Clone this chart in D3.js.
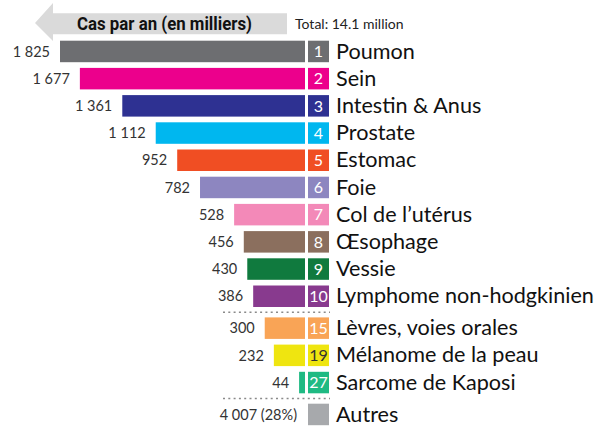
<!DOCTYPE html>
<html>
<head>
<meta charset="utf-8">
<script src="https://cdn.jsdelivr.net/npm/d3@7"></script>
<style>
  body { margin: 0; background: #fff; }
  text { font-family: Lato, "Open Sans", sans-serif; }
</style>
</head>
<body>
<script>
// Data (thousands of cases per year)
let categories = ["Poumon", "Sein", "Intestin & Anus", "Prostate", "Estomac", "Foie",
  "Col de l\u2019ut\u00e9rus", "\u0152sophage", "Vessie", "Lymphome non-hodgkinien",
  "L\u00e8vres, voies orales", "M\u00e9lanome de la peau", "Sarcome de Kaposi", "Autres"];
let values = [1825, 1677, 1361, 1112, 952, 782, 528, 456, 430, 386, 300, 232, 44, 4007];
let valueLabels = ["1 825", "1 677", "1 361", "1 112", "952", "782", "528", "456", "430",
  "386", "300", "232", "44", "4 007 (28%)"];
let ranks = ["1", "2", "3", "4", "5", "6", "7", "8", "9", "10", "15", "19", "27", ""];
let colors = ["#6d6e71", "#ec008c", "#2e3192", "#00b7ef", "#f04e23", "#8d86c0",
  "#f389b8", "#8b6f5e", "#107a3e", "#883a8e", "#f9a456", "#efe510", "#1fba83", "#a7a9ac"];
let groups = [0, 0, 0, 0, 0, 0, 0, 0, 0, 0, 1, 1, 1, 2];

let W = 595, H = 427;
let barRight = 305;   // where bars end
let boxX = 308, boxW = 21;
let rowStep = 27.2, barH = 21.5, groupGap = 4.7, topY = 40.7;

let svg = d3.select("body").append("svg")
  .attr("width", W)
  .attr("height", H);

// bar length scale (bars grow leftwards)
let x = d3.scaleLinear().domain([0, 1825]).range([0, 245]);
let yIdx = d3.scaleLinear().domain([0, 1]).range([topY, topY + rowStep]);
let y = (i) => yIdx(i) + groups[i] * groupGap;

let rows = categories.map((c, i) => ({ i: i, cat: c, v: values[i] }));

// header arrow
svg.append("path")
  .attr("d", "M35,23 L53,3 L53,13.3 L287,13.3 L287,34.3 L53,34.3 L53,41 Z")
  .attr("fill", "#dadada");

svg.append("text")
  .attr("x", 77).attr("y", 30)
  .attr("textLength", 175).attr("lengthAdjust", "spacingAndGlyphs")
  .style("font-family", "Roboto, sans-serif")
  .style("font-weight", "bold").style("font-size", "18px")
  .attr("fill", "#111")
  .text("Cas par an (en milliers)");

svg.append("text")
  .attr("x", 295).attr("y", 28.5)
  .style("font-size", "14px").attr("fill", "#222")
  .text("Total:  14.1 million");

// bars (not for "Autres")
svg.selectAll(".bar")
  .data(rows.filter(d => d.i < 13))
  .enter().append("rect")
  .attr("class", "bar")
  .attr("x", d => barRight - x(d.v))
  .attr("y", d => y(d.i))
  .attr("width", d => x(d.v))
  .attr("height", barH)
  .attr("fill", d => colors[d.i]);

// rank boxes
svg.selectAll(".box")
  .data(rows)
  .enter().append("rect")
  .attr("class", "box")
  .attr("x", boxX)
  .attr("y", d => y(d.i))
  .attr("width", boxW)
  .attr("height", barH)
  .attr("fill", d => colors[d.i]);

svg.selectAll(".rank")
  .data(rows)
  .enter().append("text")
  .attr("class", "rank")
  .attr("x", boxX + boxW / 2)
  .attr("y", d => y(d.i) + barH / 2)
  .attr("dy", "0.36em")
  .attr("text-anchor", "middle")
  .style("font-size", "16px")
  .attr("fill", d => d.i === 11 ? "#333" : "#fff")
  .text(d => ranks[d.i]);

// value labels
svg.selectAll(".val")
  .data(rows)
  .enter().append("text")
  .attr("class", "val")
  .attr("x", d => d.i < 13 ? barRight - x(d.v) - 10 : boxX - 11)
  .attr("y", d => y(d.i) + barH / 2)
  .attr("dy", "0.36em")
  .attr("text-anchor", "end")
  .style("font-size", "14.5px")
  .attr("fill", "#333")
  .text(d => valueLabels[d.i]);

// category labels
svg.selectAll(".cat")
  .data(rows)
  .enter().append("text")
  .attr("class", "cat")
  .attr("x", 336)
  .attr("y", d => y(d.i) + barH / 2)
  .attr("dy", "0.33em")
  .style("font-size", "21.6px")
  .attr("fill", "#111")
  .text(d => d.cat);

// dotted separators
[9.5, 12.5].forEach((k) => {
  let yy = (y(Math.floor(k)) + barH + y(Math.ceil(k))) / 2;
  svg.append("line")
    .attr("x1", 223).attr("x2", 330)
    .attr("y1", yy).attr("y2", yy)
    .attr("stroke", "#8a8a8a")
    .attr("stroke-width", 1.5)
    .attr("stroke-dasharray", "2,3.3");
});
</script>
</body>
</html>
